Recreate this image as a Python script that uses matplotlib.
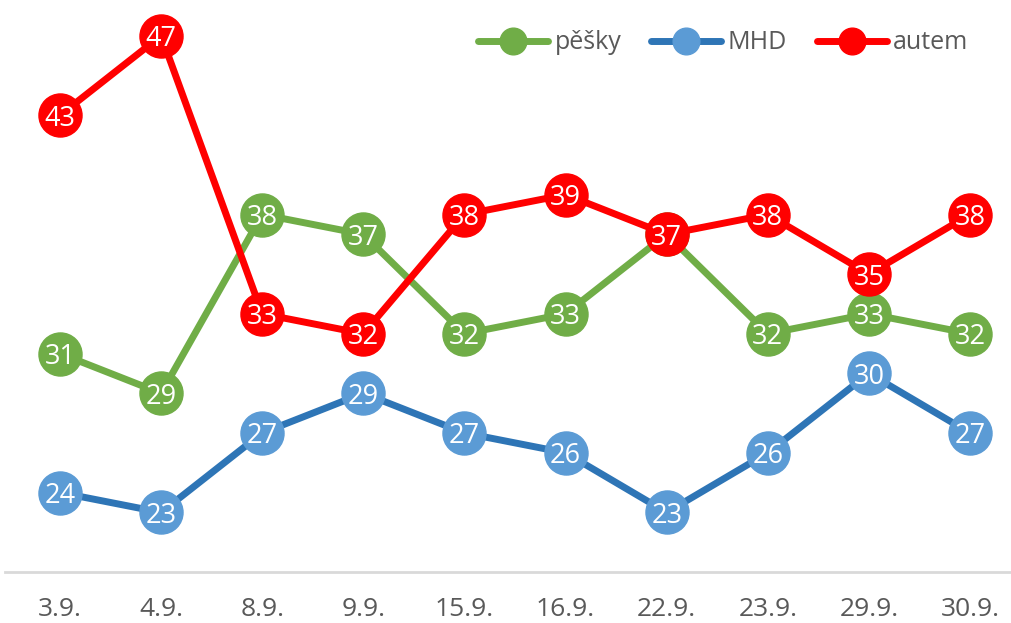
import matplotlib
matplotlib.use("Agg")
import matplotlib.pyplot as plt

categories = ["3.9.", "4.9.", "8.9.", "9.9.", "15.9.", "16.9.", "22.9.", "23.9.", "29.9.", "30.9."]
pesky = [31, 29, 38, 37, 32, 33, 37, 32, 33, 32]
mhd = [24, 23, 27, 29, 27, 26, 23, 26, 30, 27]
autem = [43, 47, 33, 32, 38, 39, 37, 38, 35, 38]

series = [
    ("pěšky", pesky, "#70AD47", "#70AD47", 3),
    ("MHD", mhd, "#2E75B6", "#5B9BD5", 2),
    ("autem", autem, "#FF0000", "#FF0000", 4),
]

plt.rcParams['font.family'] = ['Open Sans', 'DejaVu Sans']

fig = plt.figure(figsize=(10.12, 6.23), dpi=100)
ax = fig.add_axes([5/1012, 51/623, 1007/1012, 572/623])
x = list(range(len(categories)))

handles = []
for name, vals, lc, mc, z in series:
    h, = ax.plot(x, vals, color=lc, lw=5, marker='o', markersize=31,
                 markerfacecolor=mc, markeredgecolor=mc, zorder=z,
                 solid_capstyle='round', label=name)
    handles.append(h)
    for xi, v in zip(x, vals):
        ax.text(xi, v, str(v), ha='center', va='center_baseline', color='white',
                fontsize=19.5, zorder=z + 0.5)

ax.set_xlim(-0.544, 9.415)
ax.set_ylim(20, 48.8)
for s in ['top', 'right', 'left']:
    ax.spines[s].set_visible(False)
ax.spines['bottom'].set_color('#D9D9D9')
ax.spines['bottom'].set_linewidth(2)
ax.set_yticks([])
ax.set_xticks(x)
ax.set_xticklabels(categories, fontsize=19, color='#595959')
ax.tick_params(axis='x', length=0, pad=18)

leg = fig.legend(handles=handles, loc='center right', bbox_to_anchor=(0.957, 0.931),
                 ncol=3, frameon=False, fontsize=18, markerscale=0.62,
                 handlelength=2.8, handletextpad=0.25, columnspacing=1.2,
                 borderpad=0, borderaxespad=0)
for t in leg.get_texts():
    t.set_color('#595959')

fig.savefig("out.png", dpi=100)
